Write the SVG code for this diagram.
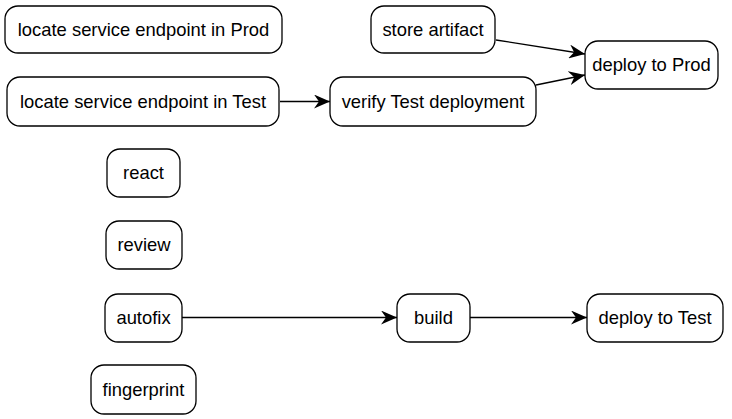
<svg xmlns="http://www.w3.org/2000/svg" width="732" height="419" viewBox="0 0 732 419">
<style>
.n rect{fill:#fff;stroke:#000;stroke-width:1.3}
.n text{font-family:"Liberation Sans",Arial,sans-serif;font-size:18.4px;fill:#000;text-anchor:middle;dominant-baseline:central}
.e{stroke:#000;stroke-width:1.3;fill:none;marker-end:url(#ah)}
</style>
<defs>
<marker id="ah" markerUnits="userSpaceOnUse" markerWidth="18" markerHeight="14" refX="16" refY="7" orient="auto">
<path d="M0,0 L16,7 L0,14 L5,7 z" fill="#000"/>
</marker>
</defs>
<rect width="732" height="419" fill="#fff"/>
<g id="edges">
<path class="e" d="M280,101.5 L330,101.5"/>
<path class="e" d="M496,40 L585,54"/>
<path class="e" d="M536,85 L585,75"/>
<path class="e" d="M182,317.5 L397,317.5"/>
<path class="e" d="M470,317.5 L587,317.5"/>
</g>
<g id="n_locate_prod" class="n"><rect x="5" y="6" width="277" height="47" rx="13"/><text x="143.5" y="29">locate service endpoint in Prod</text></g>
<g id="n_locate_test" class="n"><rect x="7" y="77" width="272" height="49" rx="13"/><text x="143" y="101">locate service endpoint in Test</text></g>
<g id="n_verify" class="n"><rect x="330" y="77" width="206" height="49" rx="13"/><text x="433" y="101">verify Test deployment</text></g>
<g id="n_store" class="n"><rect x="371" y="6" width="124" height="47" rx="13"/><text x="433" y="29">store artifact</text></g>
<g id="n_deploy_prod" class="n"><rect x="585" y="41" width="133" height="48" rx="13"/><text x="651.5" y="64.5">deploy to Prod</text></g>
<g id="n_react" class="n"><rect x="107" y="149" width="73" height="48" rx="13"/><text x="143.5" y="172.5">react</text></g>
<g id="n_review" class="n"><rect x="106" y="221" width="76" height="48" rx="13"/><text x="144" y="244.5">review</text></g>
<g id="n_autofix" class="n"><rect x="105" y="294" width="77" height="48" rx="13"/><text x="143.5" y="317.5">autofix</text></g>
<g id="n_fingerprint" class="n"><rect x="91" y="365" width="105" height="49" rx="13"/><text x="143.5" y="389">fingerprint</text></g>
<g id="n_build" class="n"><rect x="397" y="294" width="73" height="48" rx="13"/><text x="433.5" y="317.5">build</text></g>
<g id="n_deploy_test" class="n"><rect x="587" y="294" width="136" height="48" rx="13"/><text x="655" y="317.5">deploy to Test</text></g>
</svg>
